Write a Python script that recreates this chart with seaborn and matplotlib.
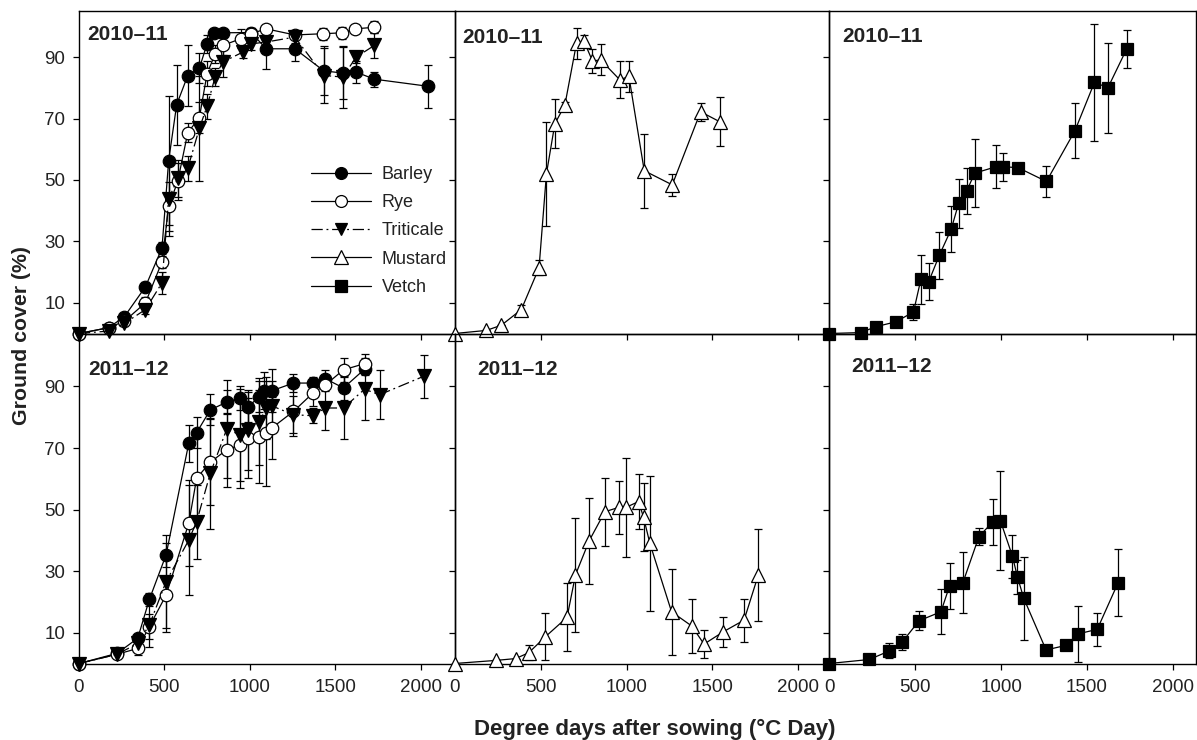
import numpy as np
import pandas as pd
import matplotlib
matplotlib.use("Agg")
import matplotlib.pyplot as plt
from matplotlib.lines import Line2D
import seaborn as sns

# ---------------- data ----------------
# 2010-11
barley_10_x = [0,174,266,389,486,525,572,637,705,750,793,842,1008,1096,1264,1434,1545,1623,1730,2043]
barley_10_y = [0,1.9,5.5,15.2,27.8,56.3,74.5,84,86.4,94.3,97.9,97.9,98,92.7,92.7,85.5,84.8,85.1,82.8,80.5]
barley_10_e = [0,0.5,1,1.5,2,21,13,10,5,3,1,1,1.5,6.5,4,8,8.5,3.5,2.5,7]

rye_10_x = [0,174,266,389,486,525,578,637,705,750,797,842,949,1008,1096,1264,1428,1541,1619,1730]
rye_10_y = [0,1.9,4,10,23.3,41.4,49.5,65.4,70.3,84.6,91,93.8,96,97.6,99.2,97.2,97.6,97.9,99.2,99.7]
rye_10_e = [0,0.5,1,2,2,8,6,3,5,4,3,3,3,2,1,1,2,2,1,2]

tri_10_x = [0,174,266,389,486,525,578,637,705,750,797,842,959,1008,1096,1264,1434,1545,1623,1730]
tri_10_y = [0,0.8,3.3,7.8,16.5,43.8,50.5,53.8,66.8,74,83.5,88.4,91.6,94.3,94.9,96.5,84,83.5,90,93.8]
tri_10_e = [0,0.5,1,1.5,3.5,12,6,4,17,4,3,5,2,2,2,2,9,10,2,4]

mus_10_x = [0,184,272,388,491,534,583,641,709,752,802,849,961,1014,1103,1266,1431,1544]
mus_10_y = [0,1,2.7,7.8,21.4,52,68.3,74.3,94.5,95.2,88.7,89.1,82.6,83.7,53,48.4,72.2,68.9]
mus_10_e = [0,0,0,1.5,2.5,17,8,1,5,2,4,5,6,5,12,3.5,3,8]

vet_10_x = [0,183,270,387,490,533,578,640,710,753,801,846,971,1009,1099,1264,1430,1544,1622,1731]
vet_10_y = [0,0.3,2.2,3.8,7,17.6,16.8,25.4,34,42.4,46.5,52.2,54.3,54.3,54,49.5,66,81.8,80,92.6]
vet_10_e = [0,0,0,0,2.5,8,6,7.5,7.5,8,7.5,11,7,4.5,0,5,9,19,14.7,6.3]

# 2011-12
bar_11_x = [0,223,344,412,510,643,689,769,865,943,988,1057,1086,1129,1256,1369,1443,1549,1672]
bar_11_y = [0,3.3,8.2,20.8,35.3,71.6,75,82.4,84.9,86.2,83.3,86.7,88.6,88.6,91.1,91.1,92.5,89.5,95.6]
bar_11_e = [0,0.5,1.5,2,4,6,5,5,4,4,5,5,6,7,3,2,3,4,2]

rye_11_x = [0,223,344,412,510,643,689,769,865,943,988,1057,1096,1129,1256,1369,1443,1549,1672]
rye_11_y = [0,3,4.9,12,22.2,45.6,60.2,65.4,69.4,71,73.4,73.7,74.8,76.5,81.9,87.8,90.5,95.4,97.4]
rye_11_e = [0,0.5,2,4,12,14,14,14,12,14,13,15,17,10,8,4,2,4,3]

tri_11_x = [0,223,344,412,510,643,689,769,865,943,988,1057,1096,1129,1256,1369,1443,1549,1672,1760,2019]
tri_11_y = [0,3,6.5,12.5,26.6,40.1,46.1,61.8,76.1,74.3,75.9,78.6,83,83.7,80.8,80.5,83,83,89.1,87.3,93.3]
tri_11_e = [0,0.5,1.5,7,15,18,12,18,16,15,13,14,10,8,6,2.5,7,10,10,8,7]

mus_11_x = [0,239,355,431,528,654,703,783,874,954,996,1070,1099,1136,1262,1379,1451,1563,1684,1767]
mus_11_y = [0,1,1.6,3.5,8.7,15,28.8,39.9,49.3,50.7,50.7,52.6,47.5,39,16.8,12.2,6.3,10.3,14.1,28.8]
mus_11_e = [0,0,0,2.5,7.7,11,18.6,14,11,8.7,16,9,11,22,14,8.7,4.6,4.8,7,15]

vet_11_x = [0,233,350,426,523,650,700,778,871,953,996,1066,1095,1132,1262,1379,1447,1560,1682]
vet_11_y = [0,1.3,4.1,7.1,13.9,16.8,25.2,26.3,41.2,46.1,46.4,34.9,28.2,21.2,4.4,5.9,9.6,11.1,26.3]
vet_11_e = [0,0,2.4,2.6,3.1,7.3,7.6,10,2.7,7.5,16,7,5.5,13.5,0,0,9,5.4,11]

crops = ["Barley", "Rye", "Triticale", "Mustard", "Vetch"]
season_labels = ["2010\u201311", "2011\u201312"]
x_ticks = [0, 500, 1000, 1500, 2000]
y_ticks = [10, 30, 50, 70, 90]

# ---------------- style ----------------
sns.set_theme(style="ticks")
plt.rcParams["font.family"] = ["Liberation Sans", "DejaVu Sans"]
plt.rcParams["axes.linewidth"] = 1.0

styles = {
    "Barley":    dict(marker="o", mfc="black", ls="-"),
    "Rye":       dict(marker="o", mfc="white", ls="-"),
    "Triticale": dict(marker="v", mfc="black", ls=(0, (9, 3, 1.5, 3))),
    "Mustard":   dict(marker="^", mfc="white", ls="-"),
    "Vetch":     dict(marker="s", mfc="black", ls="-"),
}
msize = {"o": 9, "v": 9.5, "^": 10, "s": 9}

panels = {
    (0, 0): [("Barley", barley_10_x, barley_10_y, barley_10_e),
             ("Rye", rye_10_x, rye_10_y, rye_10_e),
             ("Triticale", tri_10_x, tri_10_y, tri_10_e)],
    (0, 1): [("Mustard", mus_10_x, mus_10_y, mus_10_e)],
    (0, 2): [("Vetch", vet_10_x, vet_10_y, vet_10_e)],
    (1, 0): [("Barley", bar_11_x, bar_11_y, bar_11_e),
             ("Rye", rye_11_x, rye_11_y, rye_11_e),
             ("Triticale", tri_11_x, tri_11_y, tri_11_e)],
    (1, 1): [("Mustard", mus_11_x, mus_11_y, mus_11_e)],
    (1, 2): [("Vetch", vet_11_x, vet_11_y, vet_11_e)],
}

W, H = 1197, 740
fig = plt.figure(figsize=(W / 100, H / 100), dpi=100, facecolor="white")
gs = fig.add_gridspec(2, 3, left=79 / W, right=1196 / W, top=1 - 11 / H, bottom=1 - 663.5 / H,
                      wspace=0, hspace=0, width_ratios=[376, 375, 367], height_ratios=[322.5, 330])
xmax = [2200, 2180, 2135]
ymax = [105, 107.2]
label_pos = {(0, 0): (0.021, 0.926), (0, 1): (0.019, 0.918), (0, 2): (0.035, 0.92),
             (1, 0): (0.024, 0.89), (1, 1): (0.059, 0.89), (1, 2): (0.06, 0.90)}

axes = {}
for (r, c), series in panels.items():
    ax = fig.add_subplot(gs[r, c])
    axes[(r, c)] = ax
    ax.set_facecolor("none")
    for name, xs, ys, es in series:
        st = styles[name]
        df = pd.DataFrame({"x": xs, "y": ys})
        ax.errorbar(xs, ys, yerr=es, fmt="none", ecolor="black", elinewidth=0.9,
                    capsize=2.6, capthick=0.9, zorder=2, clip_on=False)
        sns.lineplot(data=df, x="x", y="y", ax=ax, color="black", linewidth=0.9,
                     linestyle=st["ls"], marker=st["marker"], markersize=msize[st["marker"]],
                     markerfacecolor=st["mfc"], markeredgecolor="black", markeredgewidth=0.9,
                     estimator=None, errorbar=None, sort=False, legend=False, zorder=3,
                     clip_on=False)
    ax.set_xlim(0, xmax[c])
    ax.set_ylim(0, ymax[r])
    ax.set_xticks(x_ticks)
    ax.set_yticks(y_ticks)
    ax.set_xlabel("")
    ax.set_ylabel("")
    for sp in ax.spines.values():
        sp.set_visible(True)
        sp.set_linewidth(1.0)
        sp.set_color("black")
    ax.tick_params(axis="both", direction="out", length=4, width=0.9, color="black",
                   labelsize=13.5, labelcolor="#222222")
    ax.tick_params(axis="y", pad=6)
    ax.tick_params(axis="x", pad=7)
    if r == 0:
        ax.tick_params(axis="x", labelbottom=False)
    if c != 0:
        ax.tick_params(axis="y", labelleft=False)
    lx, ly = label_pos[(r, c)]
    ax.text(lx, ly, season_labels[r], transform=ax.transAxes, fontsize=15,
            fontweight="bold", color="#222222", ha="left", va="center")

# legend
handles = []
for name in crops:
    st = styles[name]
    handles.append(Line2D([0], [0], color="black", linewidth=0.9, linestyle=st["ls"],
                          marker=st["marker"], markersize=msize[st["marker"]] * 0.95,
                          markerfacecolor=st["mfc"], markeredgecolor="black",
                          markeredgewidth=0.9))
leg = axes[(0, 0)].legend(handles, crops, loc="center left", bbox_to_anchor=(0.618, 0.318),
                          frameon=False, fontsize=13, handlelength=3.3, handletextpad=0.6,
                          labelspacing=0.62, borderpad=0, borderaxespad=0)
for t in leg.get_texts():
    t.set_color("#222222")

fig.text(22 / W, 1 - 336 / H, "Ground cover (%)", rotation=90, ha="center", va="center",
         fontsize=15.3, fontweight="bold", color="#222222")
fig.text(655 / W, 1 - 735 / H, "Degree days after sowing (\u00b0C Day)", ha="center",
         va="baseline", fontsize=16, fontweight="bold", color="#222222")

fig.savefig("out.png", dpi=100, facecolor="white")
